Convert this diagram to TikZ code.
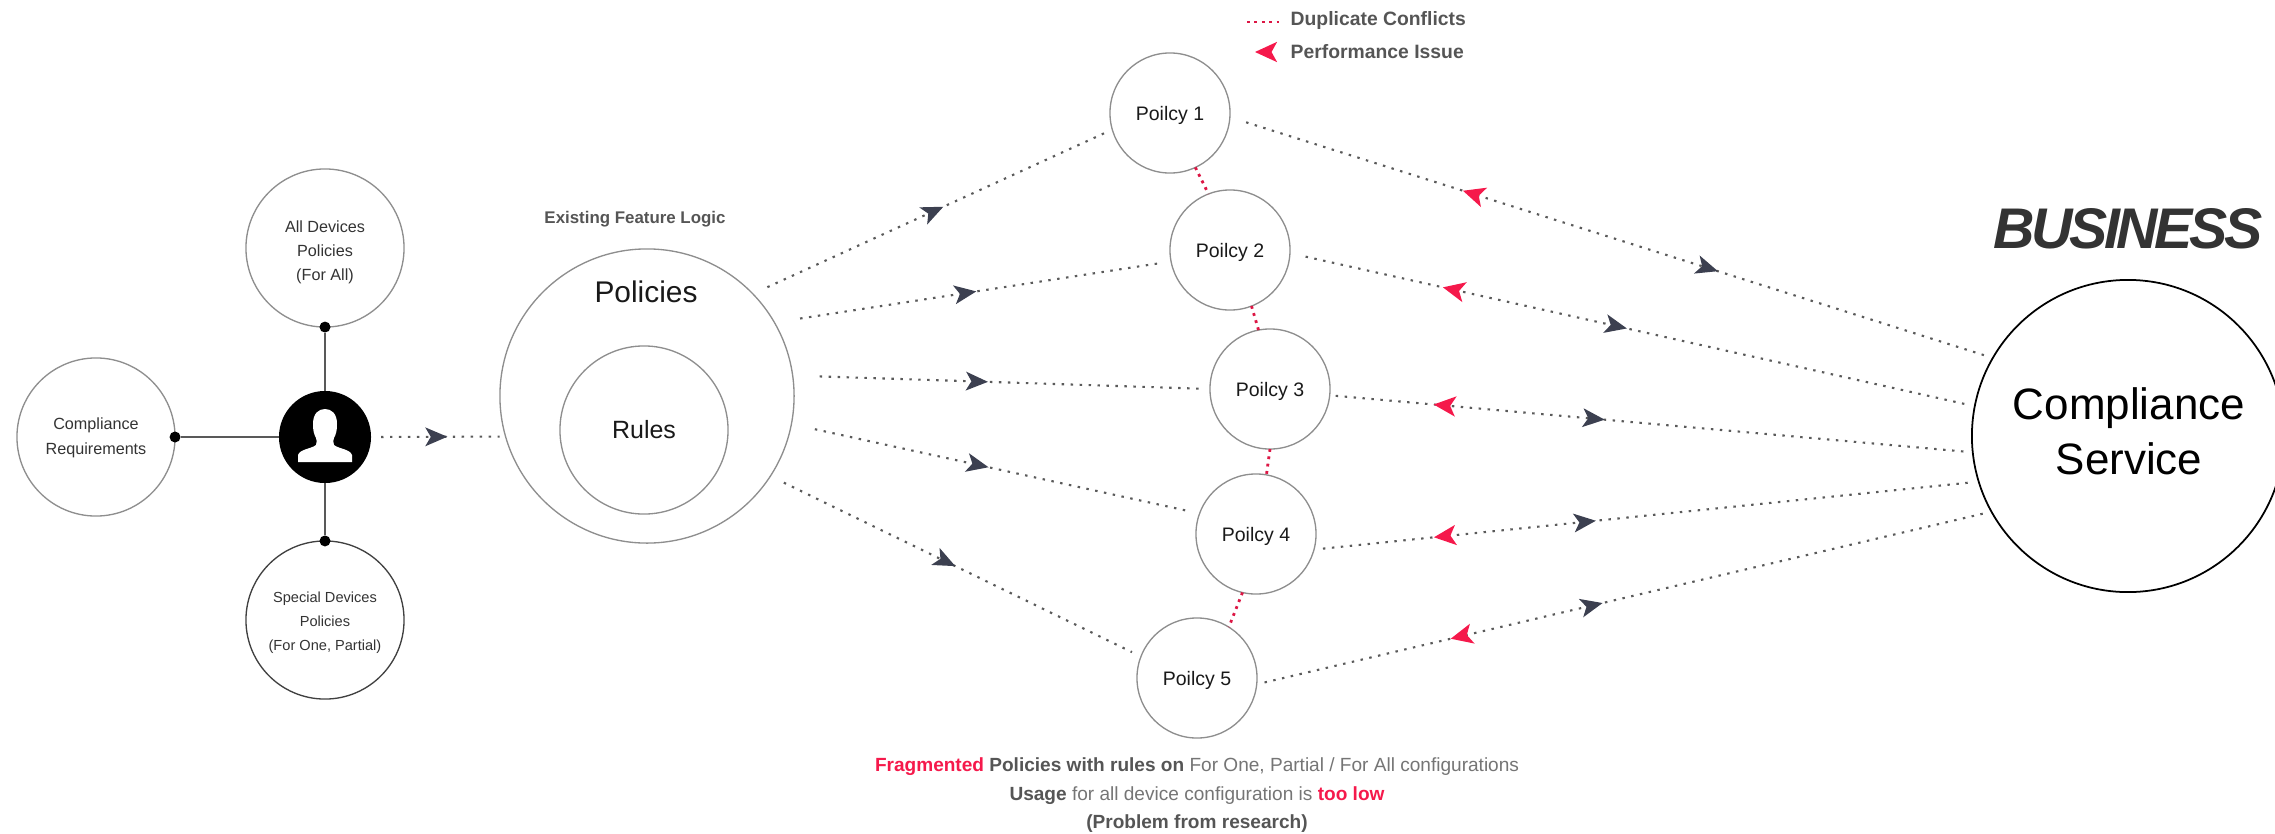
\documentclass[tikz,border=0pt]{standalone}
\usepackage{fontspec}
\setmainfont{Liberation Sans}
\usetikzlibrary{decorations.markings}
\definecolor{hotred}{HTML}{F5194B}
\definecolor{headdark}{HTML}{3C4050}
\definecolor{ringgray}{HTML}{8E8E8E}
\definecolor{dotgray}{HTML}{5A5A5A}
\definecolor{legendgray}{HTML}{555555}
\definecolor{softgray}{HTML}{757575}
\newcommand{\tipblack}{\fill[headdark] (0pt,0pt) -- (-6.3pt,2.7pt) -- (-4.7pt,0pt) -- (-6.3pt,-2.7pt) -- cycle;}
\newcommand{\tipred}{\fill[hotred] (0pt,0pt) -- (6.3pt,2.9pt) -- (4.7pt,0pt) -- (6.3pt,-2.9pt) -- cycle;}
\newcommand{\fsz}[2]{\fontsize{#1pt}{#2pt}\selectfont}
\tikzset{
  ring/.style={circle,draw=ringgray,line width=.38pt,inner sep=0pt,outer sep=0pt,align=center},
  smallring/.style={ring,minimum size=1.58cm},
  smalltext/.style={align=center,text=black!80,inner sep=0pt},
  policyring/.style={ring,minimum size=1.2cm,font=\fsz{5.55}{7},text=black!90,text height=5pt,text depth=1pt},
  joint/.style={circle,fill=black,inner sep=0pt,outer sep=0pt,minimum size=.11cm},
  solidlink/.style={draw=black!65,line width=.36pt},
  dotlink/.style={draw=dotgray,line width=.6pt,dash pattern=on .7pt off 1.85pt},
  pinklink/.style={draw=hotred!90!black,line width=.8pt,dash pattern=on .8pt off 1.3pt},
  blackat/.style={postaction={decorate,decoration={markings,mark=at position #1 with {\tipblack}}}},
  redat/.style={postaction={decorate,decoration={markings,mark=at position #1 with {\tipred}}}},
  legendtext/.style={anchor=west,text=legendgray,font=\fsz{5.5}{7}\bfseries,inner sep=0pt},
  bottomtext/.style={text=softgray,font=\fsz{5.42}{7}},
}
\begin{document}
\begin{tikzpicture}[x=.01cm,y=-.01cm]
\useasboundingbox (0,0) rectangle (2275,833);
% left cluster
\node[smallring,font=\fsz{4.6}{7},text=black!80] (req) at (96,437) {};
\node[smalltext,font=\fsz{4.6}{7}] (reqtext) at (96,438) {Compliance\\Requirements};
\node[smallring] (alldev) at (325,248) {};
\node[smalltext,font=\fsz{4.6}{6.8}] (alldevtext) at (325,252) {All Devices\\Policies\\(For All)};
\node[smallring,draw=black!75] (special) at (325,620) {};
\node[smalltext,font=\fsz{4.15}{6.8}] (specialtext) at (325,623) {Special Devices\\Policies\\(For One, Partial)};
\node[circle,fill=black,inner sep=0pt,outer sep=0pt,minimum size=.92cm] (person) at (325,437) {};
\fill[white,shift={(person.center)}] (-27,25) -- (-27,18) .. controls (-25,12) and (-14,12) .. (-9,8) .. controls (-8,5) and (-8,3) .. (-9,1) .. controls (-11,-3) and (-12,-6) .. (-12,-13) .. controls (-12,-24) and (-6,-28) .. (0,-28) .. controls (6,-28) and (12,-24) .. (12,-13) .. controls (12,-6) and (11,-3) .. (9,1) .. controls (8,3) and (8,5) .. (9,8) .. controls (14,12) and (25,12) .. (27,18) -- (27,25) -- cycle;
\node[joint] (jreq) at (req.east) {};
\node[joint] (jall) at (alldev.south) {};
\node[joint] (jspec) at (special.north) {};
\draw[solidlink] (jreq) -- (person);
\draw[solidlink] (jall) -- (person);
\draw[solidlink] (jspec) -- (person);
% feature logic
\node[text=legendgray,font=\fsz{4.8}{6}\bfseries] (existing) at (635,219) {Existing Feature Logic};
\node[ring,minimum size=2.94cm] (big) at (647,396) {};
\node[font=\fsz{8.5}{10},text=black!90] (bigtext) at (646,292) {Policies};
\node[ring,minimum size=1.68cm,font=\fsz{7.1}{9},text=black!90] (rules) at (644,430) {Rules};
% policies
\node[policyring] (p1) at (1170,113) {Poilcy 1};
\node[policyring] (p2) at (1230,250) {Poilcy 2};
\node[policyring] (p3) at (1270,389) {Poilcy 3};
\node[policyring] (p4) at (1256,534) {Poilcy 4};
\node[policyring] (p5) at (1197,678) {Poilcy 5};
% service
\node[ring,draw=black,line width=.5pt,minimum size=3.12cm] (service) at (2128,436) {};
\node[align=center,inner sep=0pt,font=\fsz{12.5}{15.6},text=black] (servicetext) at (2129,431) {Compliance\\Service};
\node[font=\fsz{16.3}{18}\bfseries\itshape\addfontfeature{LetterSpace=-6},text=black!80] (business) at (2128,229) {BUSINESS};
% person to logic
\draw[dotlink,blackat=.567,shorten <=.1cm,shorten >=.06cm] (person.east) -- (big.196.5);
% logic to policies
\draw[dotlink,blackat=.53,shorten <=.16cm,shorten >=.07cm] (big.44) -- (p1.196.5);
\draw[dotlink,blackat=.509,shorten <=.26cm,shorten >=.09cm] (big.30) -- (p2.191.6);
\draw[dotlink,blackat=.468,shorten <=.27cm,shorten >=.05cm] (big.8) -- (p3.180);
\draw[dotlink,blackat=.483,shorten <=.24cm,shorten >=.1cm] (big.-11.4) -- (p4.160.8);
\draw[dotlink,blackat=.499,shorten <=.15cm,shorten >=.1cm] (big.-33) -- (p5.159);
% policies to service
\draw[dotlink,redat=.3055,blackat=.6397,shorten <=.17cm,shorten >=.09cm] (p1.-4.5) -- (service.150.2);
\draw[dotlink,redat=.2234,blackat=.492,shorten <=.16cm,shorten >=.1cm] (p2.-3.8) -- (service.169.2);
\draw[dotlink,redat=.1617,blackat=.4277,shorten <=.06cm,shorten >=.08cm] (p3.-6) -- (service.186);
\draw[dotlink,redat=.1805,blackat=.424,shorten <=.09cm,shorten >=.09cm] (p4.-15) -- (service.197.2);
\draw[dotlink,redat=.264,blackat=.4707,shorten <=.08cm,shorten >=.08cm] (p5.-6.5) -- (service.209.5);
% conflicts
\draw[pinklink] (p1.-65) -- (p2.111);
\draw[pinklink] (p2.-69) -- (p3.101);
\draw[pinklink] (p3.-90) -- (p4.80);
\draw[pinklink] (p4.-103.6) -- (p5.58);
% legend
\coordinate (lega) at (1247,22);
\coordinate (legb) at (1280,22);
\draw[pinklink] (lega) -- (legb);
\node[legendtext] (legdup) at (1290,20) {Duplicate Conflicts};
\coordinate (legtip) at (1255,52);
\begin{scope}[shift={(legtip)}]\tipred\end{scope}
\node[legendtext] (legperf) at (1290,52) {Performance Issue};
% bottom text
\node[bottomtext] (b1) at (1197,767) {\textcolor{hotred}{\bfseries Fragmented} \textcolor{legendgray}{\bfseries Policies with rules on} For One, Partial / For All configurations};
\node[bottomtext] (b2) at (1197,796) {\textcolor{legendgray}{\bfseries Usage} for all device configuration is \textcolor{hotred}{\bfseries too low}};
\node[bottomtext,text=legendgray] (b3) at (1197,824) {\bfseries (Problem from research)};
\end{tikzpicture}
\end{document}
